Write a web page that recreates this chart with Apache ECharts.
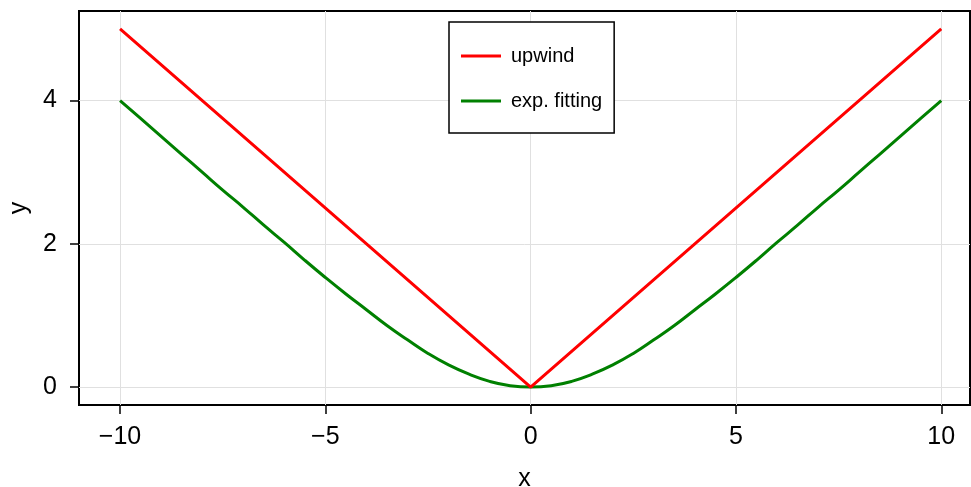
<!DOCTYPE html>
<html>
<head>
<meta charset="utf-8">
<script src="https://cdn.jsdelivr.net/npm/echarts@6/dist/echarts.min.js"></script>
<style>
  html, body { margin: 0; padding: 0; background: #fff; }
  #main { width: 971px; height: 487px; }
</style>
</head>
<body>
<div id="main"></div>
<script>
// values
var upwindX = [-10, 0, 10];
var upwindY = [5, 0, 5];

var fitX = [-10, -9.5, -9, -8.5, -8, -7.5, -7, -6.5, -6, -5.5, -5, -4.5, -4, -3.5, -3, -2.5, -2, -1.5, -1, -0.5,
            0, 0.5, 1, 1.5, 2, 2.5, 3, 3.5, 4, 4.5, 5, 5.5, 6, 6.5, 7, 7.5, 8, 8.5, 9, 9.5, 10];
var fitY = [4.0, 3.75, 3.5, 3.25, 3.0, 2.75, 2.51, 2.26, 2.02, 1.77, 1.53, 1.3, 1.08, 0.86, 0.66, 0.47, 0.31, 0.18, 0.08, 0.02,
            0, 0.02, 0.08, 0.18, 0.31, 0.47, 0.66, 0.86, 1.08, 1.3, 1.53, 1.77, 2.02, 2.26, 2.51, 2.75, 3.0, 3.25, 3.5, 3.75, 4.0];

var xTicks = [-10, -5, 0, 5, 10];
var yTicks = [0, 2, 4];

function pairs(xs, ys) {
  var out = [];
  for (var i = 0; i < xs.length; i++) out.push([xs[i], ys[i]]);
  return out;
}
function fmt(v) {
  return v < 0 ? '\u2212' + Math.abs(v) : String(v);
}

var font = 'Liberation Sans';
var chart = echarts.init(document.getElementById('main'));

var option = {
  animation: false,
  backgroundColor: '#fff',
  grid: {
    left: 79, right: 1, top: 11, bottom: 82,
    outerBoundsMode: 'none',
    containLabel: false,
    show: true, borderColor: '#000', borderWidth: 2
  },
  legend: {
    orient: 'vertical',
    left: 449, top: 22,
    icon: 'rect',
    itemWidth: 40, itemHeight: 3,
    itemGap: 25,
    padding: [24, 12, 22, 12],
    borderColor: '#000', borderWidth: 1.5,
    backgroundColor: '#fff',
    textStyle: { fontFamily: font, fontSize: 20, color: '#000', padding: [0, 0, 0, 5] },
    data: ['upwind', 'exp. fitting']
  },
  xAxis: {
    type: 'value',
    min: -11, max: 10.7,
    name: 'x', nameLocation: 'middle', nameGap: 62,
    nameTextStyle: { fontFamily: font, fontSize: 25, color: '#000' },
    axisLine: { show: false, onZero: false },
    axisTick: { show: true, inside: false, length: 9, customValues: xTicks, lineStyle: { color: '#000', width: 1.5 } },
    axisLabel: { customValues: xTicks, formatter: fmt, margin: 20, fontFamily: font, fontSize: 25, color: '#000' },
    splitLine: { show: true, lineStyle: { color: '#e0e0e0', width: 1 } }
  },
  yAxis: {
    type: 'value',
    min: -0.25, max: 5.25,
    name: 'y', nameLocation: 'middle', nameGap: 47,
    nameTextStyle: { fontFamily: font, fontSize: 25, color: '#000' },
    axisLine: { show: false, onZero: false },
    axisTick: { show: true, inside: false, length: 9, customValues: yTicks, lineStyle: { color: '#000', width: 1.5 } },
    axisLabel: { customValues: yTicks, formatter: fmt, margin: 22, fontFamily: font, fontSize: 25, color: '#000' },
    splitLine: { show: true, lineStyle: { color: '#e0e0e0', width: 1 } }
  },
  series: [
    {
      name: 'upwind',
      type: 'line',
      data: pairs(upwindX, upwindY),
      showSymbol: false, symbol: 'none',
      lineStyle: { color: '#ff0000', width: 3 },
      itemStyle: { color: '#ff0000' },
      z: 3
    },
    {
      name: 'exp. fitting',
      type: 'line',
      data: pairs(fitX, fitY),
      smooth: 0.5,
      showSymbol: false, symbol: 'none',
      lineStyle: { color: '#008000', width: 3 },
      itemStyle: { color: '#008000' },
      z: 2
    }
  ]
};
chart.setOption(option);
</script>
</body>
</html>
